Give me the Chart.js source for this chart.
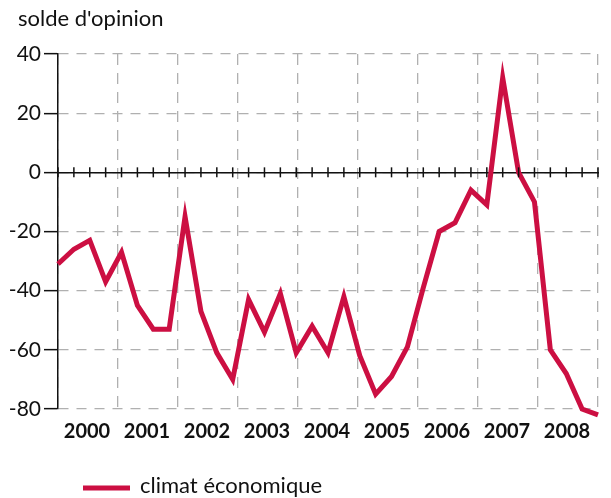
<!DOCTYPE html>
<html>
<head>
<meta charset="utf-8">
<script src="https://cdn.jsdelivr.net/npm/chart.js@4"></script>
<style>
  html, body { margin: 0; padding: 0; background: #fff; }
  #wrap { width: 611px; height: 498px; position: relative; }
</style>
</head>
<body>
<div id="wrap"><canvas id="chart" width="611" height="498"></canvas></div>
<script>
// quarters 2000T1 .. 2008T3
const years = ['2000', '2001', '2002', '2003', '2004', '2005', '2006', '2007', '2008'];
const quarters = [];
years.forEach(y => ['T1', 'T2', 'T3', 'T4'].forEach(q => quarters.push(y + q)));
quarters.length = 35;

const climat = [
  -31, -26, -23, -37, -27, -45, -53, -53,
  -15, -47, -61, -70, -43, -54, -41, -61,
  -52, -61, -42, -62, -75, -69, -59, -39,
  -20, -17, -6, -11, 32, 0, -10, -60,
  -68, -80, -82
];
const yTicks = [40, 20, 0, -20, -40, -60, -80];

const red = '#cc0f42';
const gridGrey = '#b0b0b0';
const font = "Lato, 'Open Sans', sans-serif";

// title, legend and the small ticks crossing the zero line
const extras = {
  id: 'extras',
  afterDraw(chart) {
    const c = chart.ctx;
    const x = chart.scales.x, y = chart.scales.y;
    const y0 = y.getPixelForValue(0);
    c.save();
    c.strokeStyle = '#111';
    c.lineWidth = 1.5;
    quarters.forEach((q, i) => {
      const px = x.getPixelForValue(i);
      c.beginPath();
      c.moveTo(px, y0 - 5);
      c.lineTo(px, y0 + 5);
      c.stroke();
    });
    c.fillStyle = '#111';
    c.font = '22px ' + font;
    c.textBaseline = 'alphabetic';
    c.fillText("solde d'opinion", 18, 26);
    // legend
    const ds = chart.data.datasets[0];
    c.strokeStyle = ds.borderColor;
    c.lineWidth = 5;
    c.beginPath();
    c.moveTo(83, 488);
    c.lineTo(130, 488);
    c.stroke();
    c.textBaseline = 'middle';
    c.fillText(ds.label, 140, 486);
    c.restore();
  }
};

new Chart(document.getElementById('chart'), {
  type: 'line',
  data: {
    labels: quarters,
    datasets: [{
      label: 'climat économique',
      data: climat,
      xAxisID: 'x',
      yAxisID: 'y',
      borderColor: red,
      borderWidth: 5,
      pointRadius: 0,
      tension: 0,
      fill: false,
      clip: false
    }]
  },
  options: {
    responsive: false,
    animation: false,
    layout: { padding: { left: 0, top: 54, right: 13, bottom: 0 } },
    plugins: { legend: { display: false }, tooltip: { enabled: false } },
    scales: {
      year: {
        type: 'linear',
        position: 'bottom',
        min: 0,
        max: 9,
        afterBuildTicks: s => { s.ticks = years.concat(['']).map((_, i) => ({ value: i })); },
        afterFit: s => { s.height = 89; },
        grid: { color: gridGrey, lineWidth: 1.3, drawTicks: false },
        border: { display: false, dash: [11, 8] },
        ticks: {
          autoSkip: false,
          maxRotation: 0,
          padding: 11,
          labelOffset: 29,
          color: '#111',
          font: { family: font, size: 20, weight: 'bold' },
          callback: v => years[v] || ''
        }
      },
      x: {
        type: 'category',
        offset: false,
        position: { y: 0 },
        grid: { display: false },
        border: { color: '#111', width: 1.5 },
        ticks: { display: false }
      },
      y: {
        min: -80,
        max: 40,
        afterBuildTicks: s => { s.ticks = yTicks.map(v => ({ value: v })); },
        afterFit: s => { s.width = 58; },
        grid: {
          color: gridGrey,
          lineWidth: 1.3,
          tickColor: '#111',
          tickLength: 14,
          tickWidth: 1.5,
          tickBorderDash: []
        },
        border: { color: '#111', width: 1.5, dash: [10, 8] },
        ticks: {
          padding: 3,
          color: '#111',
          font: { family: font, size: 21 },
          callback: v => String(v)
        }
      }
    }
  },
  plugins: [extras]
});
</script>
</body>
</html>
